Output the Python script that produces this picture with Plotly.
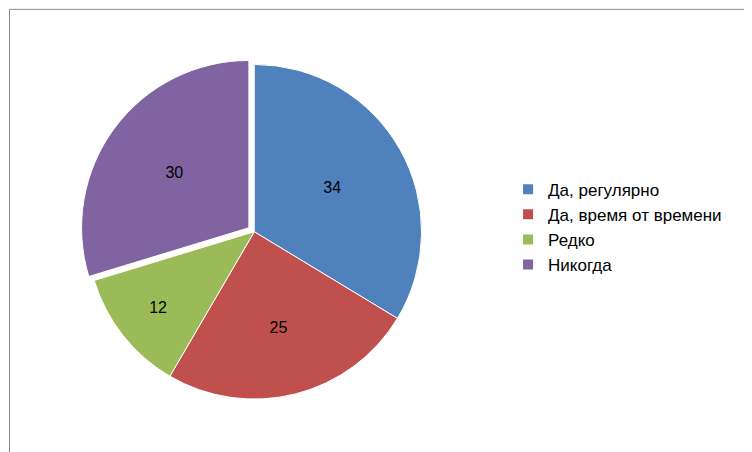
import plotly.graph_objects as go

labels = ["Да, регулярно", "Да, время от времени", "Редко", "Никогда"]
values = [34, 25, 12, 30]
colors = ["#4F81BD", "#C0504D", "#9BBB59", "#8064A2"]
pulls = [0, 0, 0, 0.04]

fig = go.Figure(go.Pie(
    labels=labels, values=values, sort=False, direction="clockwise", rotation=0,
    marker=dict(colors=colors, line=dict(color="white", width=1)),
    pull=pulls, textinfo="value", textposition="inside", insidetextorientation="horizontal",
    textfont=dict(family="Liberation Sans", size=16, color="black"),
    domain=dict(x=[0.09, 0.565], y=[0.12, 0.89]),
))
fig.update_layout(
    width=752, height=452, margin=dict(l=0, r=0, t=0, b=0),
    paper_bgcolor="white", plot_bgcolor="white",
    legend=dict(x=0.665, y=0.515, xanchor="left", yanchor="middle",
                font=dict(family="Liberation Sans", size=17, color="black"),
                itemsizing="constant"),
    shapes=[dict(type="rect", xref="paper", yref="paper", x0=0.002, y0=0.004, x1=0.997, y1=0.997,
                 line=dict(color="#888888", width=1))],
)
fig.write_html("out.html")
